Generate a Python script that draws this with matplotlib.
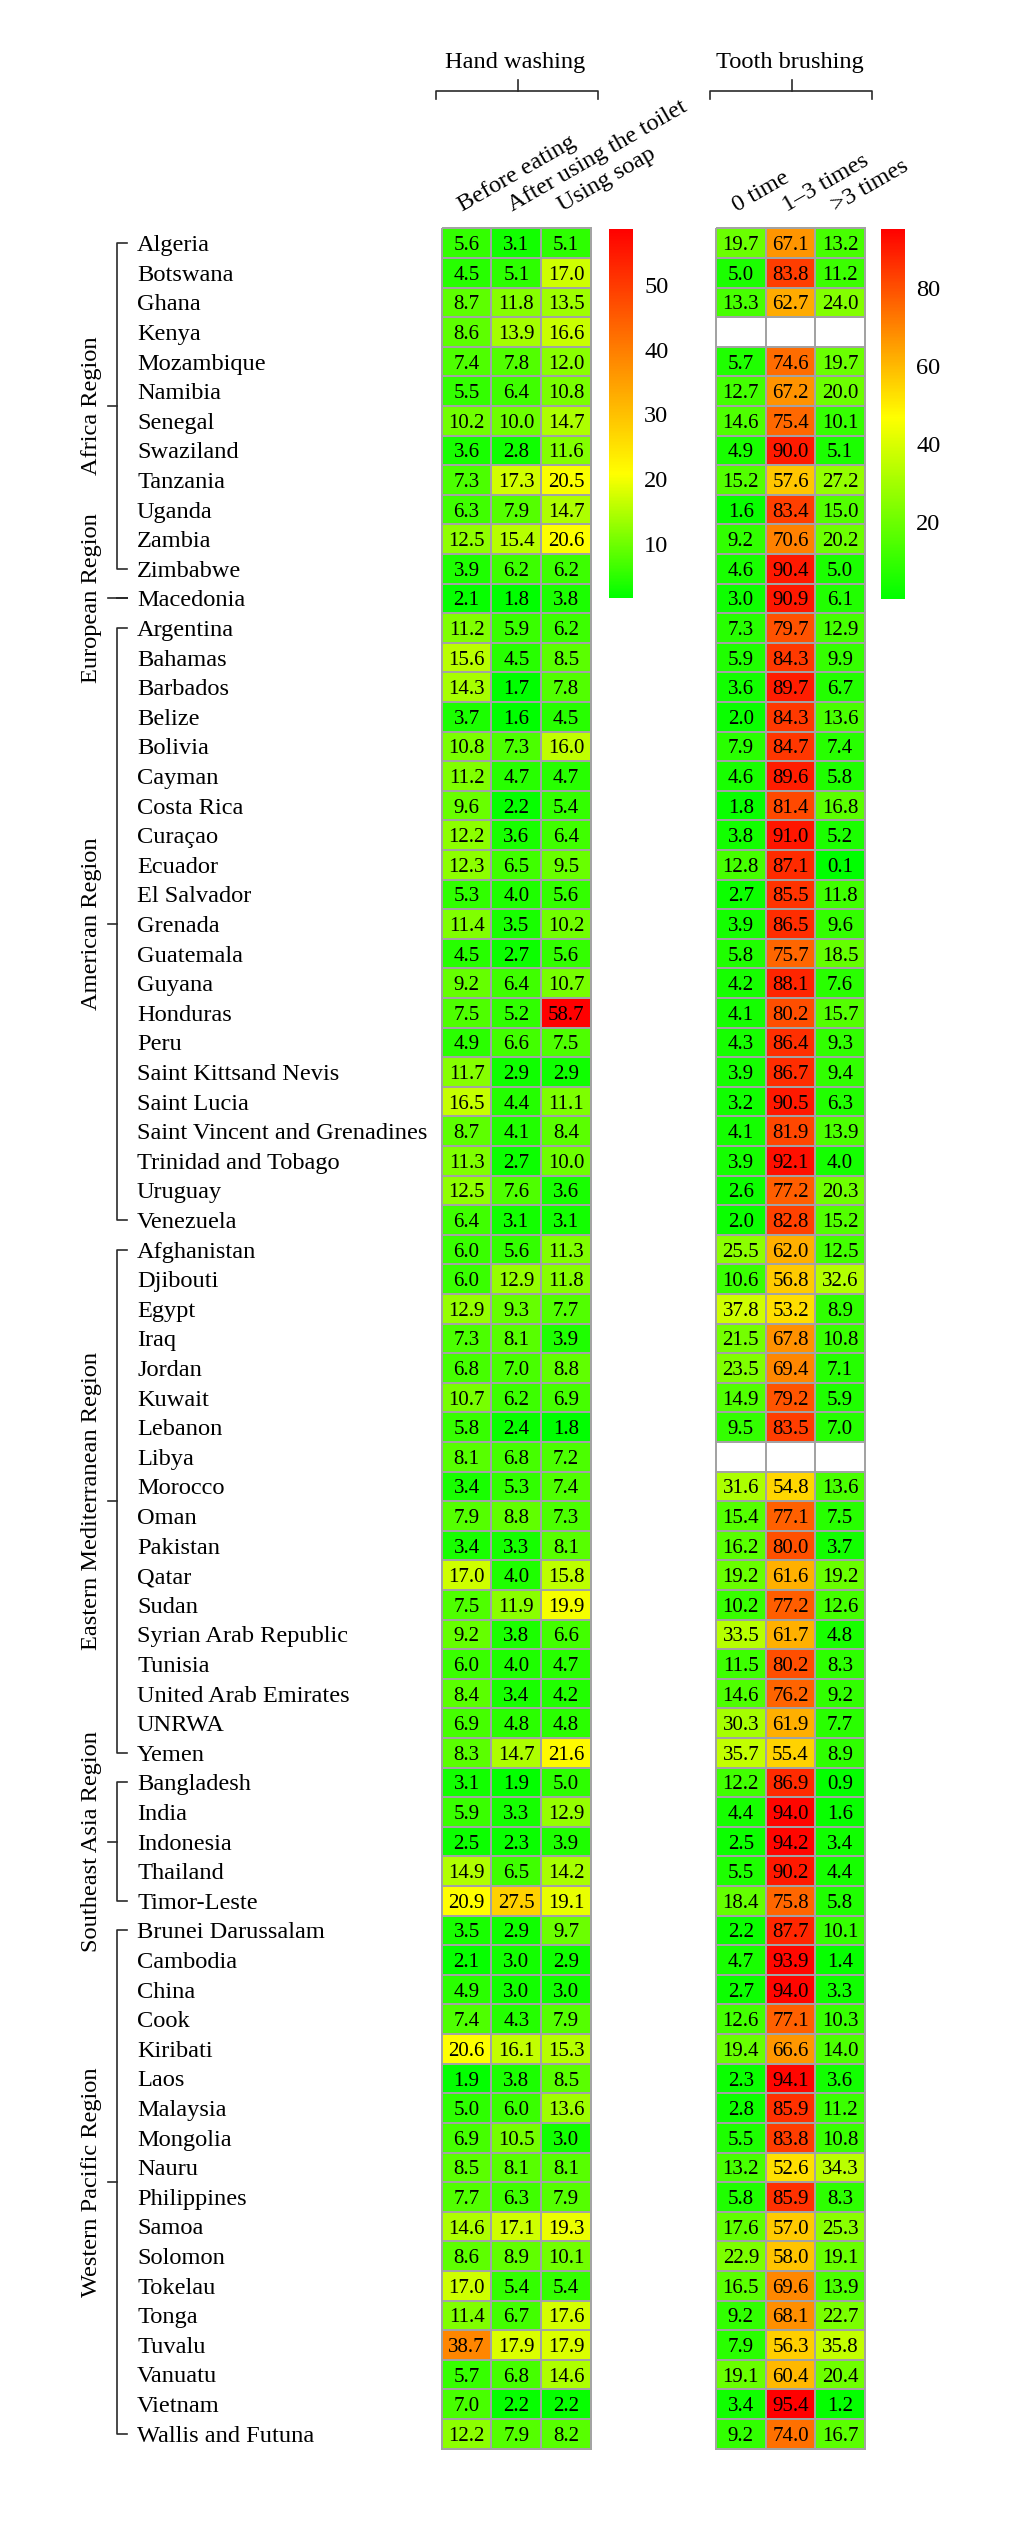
import numpy as np
import matplotlib
matplotlib.use('Agg')
import matplotlib.pyplot as plt
from matplotlib.colors import LinearSegmentedColormap
from matplotlib import transforms

# ---------------- data ----------------
countries = [
    "Algeria", "Botswana", "Ghana", "Kenya", "Mozambique", "Namibia", "Senegal",
    "Swaziland", "Tanzania", "Uganda", "Zambia", "Zimbabwe",
    "Macedonia",
    "Argentina", "Bahamas", "Barbados", "Belize", "Bolivia", "Cayman", "Costa Rica",
    "Curaçao", "Ecuador", "El Salvador", "Grenada", "Guatemala", "Guyana", "Honduras",
    "Peru", "Saint Kittsand Nevis", "Saint Lucia", "Saint Vincent and Grenadines",
    "Trinidad and Tobago", "Uruguay", "Venezuela",
    "Afghanistan", "Djibouti", "Egypt", "Iraq", "Jordan", "Kuwait", "Lebanon", "Libya",
    "Morocco", "Oman", "Pakistan", "Qatar", "Sudan", "Syrian Arab Republic", "Tunisia",
    "United Arab Emirates", "UNRWA", "Yemen",
    "Bangladesh", "India", "Indonesia", "Thailand", "Timor-Leste",
    "Brunei Darussalam", "Cambodia", "China", "Cook", "Kiribati", "Laos", "Malaysia",
    "Mongolia", "Nauru", "Philippines", "Samoa", "Solomon", "Tokelau", "Tonga",
    "Tuvalu", "Vanuatu", "Vietnam", "Wallis and Futuna",
]

region_names = ["Africa Region", "European Region", "American Region",
                "Eastern Mediterranean Region", "Southeast Asia Region",
                "Western Pacific Region"]
region_sizes = [12, 1, 21, 18, 5, 18]

hand_cols = ["Before eating", "After using the toilet", "Using soap"]
tooth_cols = ["0 time", "1\u20133 times", ">3 times"]

hand_before = [5.6, 4.5, 8.7, 8.6, 7.4, 5.5, 10.2, 3.6, 7.3, 6.3, 12.5, 3.9,
               2.1,
               11.2, 15.6, 14.3, 3.7, 10.8, 11.2, 9.6, 12.2, 12.3, 5.3, 11.4, 4.5, 9.2, 7.5,
               4.9, 11.7, 16.5, 8.7, 11.3, 12.5, 6.4,
               6.0, 6.0, 12.9, 7.3, 6.8, 10.7, 5.8, 8.1, 3.4, 7.9, 3.4, 17.0, 7.5, 9.2, 6.0,
               8.4, 6.9, 8.3,
               3.1, 5.9, 2.5, 14.9, 20.9,
               3.5, 2.1, 4.9, 7.4, 20.6, 1.9, 5.0, 6.9, 8.5, 7.7, 14.6, 8.6, 17.0, 11.4,
               38.7, 5.7, 7.0, 12.2]
hand_after = [3.1, 5.1, 11.8, 13.9, 7.8, 6.4, 10.0, 2.8, 17.3, 7.9, 15.4, 6.2,
              1.8,
              5.9, 4.5, 1.7, 1.6, 7.3, 4.7, 2.2, 3.6, 6.5, 4.0, 3.5, 2.7, 6.4, 5.2,
              6.6, 2.9, 4.4, 4.1, 2.7, 7.6, 3.1,
              5.6, 12.9, 9.3, 8.1, 7.0, 6.2, 2.4, 6.8, 5.3, 8.8, 3.3, 4.0, 11.9, 3.8, 4.0,
              3.4, 4.8, 14.7,
              1.9, 3.3, 2.3, 6.5, 27.5,
              2.9, 3.0, 3.0, 4.3, 16.1, 3.8, 6.0, 10.5, 8.1, 6.3, 17.1, 8.9, 5.4, 6.7,
              17.9, 6.8, 2.2, 7.9]
hand_soap = [5.1, 17.0, 13.5, 16.6, 12.0, 10.8, 14.7, 11.6, 20.5, 14.7, 20.6, 6.2,
             3.8,
             6.2, 8.5, 7.8, 4.5, 16.0, 4.7, 5.4, 6.4, 9.5, 5.6, 10.2, 5.6, 10.7, 58.7,
             7.5, 2.9, 11.1, 8.4, 10.0, 3.6, 3.1,
             11.3, 11.8, 7.7, 3.9, 8.8, 6.9, 1.8, 7.2, 7.4, 7.3, 8.1, 15.8, 19.9, 6.6, 4.7,
             4.2, 4.8, 21.6,
             5.0, 12.9, 3.9, 14.2, 19.1,
             9.7, 2.9, 3.0, 7.9, 15.3, 8.5, 13.6, 3.0, 8.1, 7.9, 19.3, 10.1, 5.4, 17.6,
             17.9, 14.6, 2.2, 8.2]

nan = np.nan
tooth_none = [19.7, 5.0, 13.3, nan, 5.7, 12.7, 14.6, 4.9, 15.2, 1.6, 9.2, 4.6,
              3.0,
              7.3, 5.9, 3.6, 2.0, 7.9, 4.6, 1.8, 3.8, 12.8, 2.7, 3.9, 5.8, 4.2, 4.1,
              4.3, 3.9, 3.2, 4.1, 3.9, 2.6, 2.0,
              25.5, 10.6, 37.8, 21.5, 23.5, 14.9, 9.5, nan, 31.6, 15.4, 16.2, 19.2, 10.2,
              33.5, 11.5, 14.6, 30.3, 35.7,
              12.2, 4.4, 2.5, 5.5, 18.4,
              2.2, 4.7, 2.7, 12.6, 19.4, 2.3, 2.8, 5.5, 13.2, 5.8, 17.6, 22.9, 16.5, 9.2,
              7.9, 19.1, 3.4, 9.2]
tooth_1to3 = [67.1, 83.8, 62.7, nan, 74.6, 67.2, 75.4, 90.0, 57.6, 83.4, 70.6, 90.4,
              90.9,
              79.7, 84.3, 89.7, 84.3, 84.7, 89.6, 81.4, 91.0, 87.1, 85.5, 86.5, 75.7, 88.1,
              80.2, 86.4, 86.7, 90.5, 81.9, 92.1, 77.2, 82.8,
              62.0, 56.8, 53.2, 67.8, 69.4, 79.2, 83.5, nan, 54.8, 77.1, 80.0, 61.6, 77.2,
              61.7, 80.2, 76.2, 61.9, 55.4,
              86.9, 94.0, 94.2, 90.2, 75.8,
              87.7, 93.9, 94.0, 77.1, 66.6, 94.1, 85.9, 83.8, 52.6, 85.9, 57.0, 58.0, 69.6,
              68.1, 56.3, 60.4, 95.4, 74.0]
tooth_over3 = [13.2, 11.2, 24.0, nan, 19.7, 20.0, 10.1, 5.1, 27.2, 15.0, 20.2, 5.0,
               6.1,
               12.9, 9.9, 6.7, 13.6, 7.4, 5.8, 16.8, 5.2, 0.1, 11.8, 9.6, 18.5, 7.6, 15.7,
               9.3, 9.4, 6.3, 13.9, 4.0, 20.3, 15.2,
               12.5, 32.6, 8.9, 10.8, 7.1, 5.9, 7.0, nan, 13.6, 7.5, 3.7, 19.2, 12.6, 4.8,
               8.3, 9.2, 7.7, 8.9,
               0.9, 1.6, 3.4, 4.4, 5.8,
               10.1, 1.4, 3.3, 10.3, 14.0, 3.6, 11.2, 10.8, 34.3, 8.3, 25.3, 19.1, 13.9,
               22.7, 35.8, 20.4, 1.2, 16.7]

hand_ticks = [10, 20, 30, 40, 50]
tooth_ticks = [20, 40, 60, 80]

# ---------------- style ----------------
plt.rcParams['font.family'] = ['Liberation Serif', 'DejaVu Serif']
LABEL_FS = 17.6
CELL_FS = 15
EDGE = '#a3a3a3'
LINE = '#2b2b2b'

cmap_hand = LinearSegmentedColormap.from_list(
    'hand', [(0.0, '#00ff00'), (0.335, '#ffff00'), (1.0, '#ff0000')])
cmap_tooth = LinearSegmentedColormap.from_list(
    'tooth', [(0.0, '#00ff00'), (0.49, '#ffff00'), (1.0, '#ff0000')])
for cm in (cmap_hand, cmap_tooth):
    cm.set_bad('white')

W, H = 1024, 2544
fig = plt.figure(figsize=(W / 100, H / 100), dpi=100)


def fx(px):
    return px / W


def fy(py):
    return 1 - py / H


n = len(countries)
TOP, ROWH = 228.5, 29.6
BOT = TOP + n * ROWH


def add_axes_px(x0, x1, y0, y1):
    return fig.add_axes([fx(x0), fy(y1), (x1 - x0) / W, (y1 - y0) / H])


ax_h = add_axes_px(441.7, 591, TOP, BOT)
ax_t = add_axes_px(716, 865, TOP, BOT)

hand = np.column_stack([hand_before, hand_after, hand_soap])
tooth = np.column_stack([tooth_none, tooth_1to3, tooth_over3])


def draw_heat(ax, data, cmap):
    m = np.ma.masked_invalid(data)
    mesh = ax.pcolormesh(np.arange(data.shape[1] + 1) - 0.5, np.arange(n + 1) - 0.5, m,
                         cmap=cmap, vmin=np.nanmin(data), vmax=np.nanmax(data),
                         edgecolors=EDGE, linewidth=1.3)
    mesh.set_clip_on(False)
    ax.set_xlim(-0.5, data.shape[1] - 0.5)
    ax.set_ylim(n - 0.5, -0.5)
    ax.axis('off')
    for i in range(n):
        for j in range(data.shape[1]):
            v = data[i, j]
            if np.isfinite(v):
                ax.text(j, i, f'{v:.1f}', ha='center', va='center_baseline',
                        fontsize=CELL_FS, color='black')
    return mesh


mesh_h = draw_heat(ax_h, hand, cmap_hand)
mesh_t = draw_heat(ax_t, tooth, cmap_tooth)

# colorbars
cax_h = add_axes_px(609, 633, TOP, 598)
cax_t = add_axes_px(881, 905, TOP, 599)
for cax, mesh, ticks in ((cax_h, mesh_h, hand_ticks), (cax_t, mesh_t, tooth_ticks)):
    cb = fig.colorbar(mesh, cax=cax, ticks=ticks)
    cb.outline.set_visible(False)
    cax.tick_params(length=0, labelsize=LABEL_FS, pad=8)

# column labels
for ax, cols in ((ax_h, hand_cols), (ax_t, tooth_cols)):
    for j, lab in enumerate(cols):
        ax.text(j - 0.08, -1.07, lab, rotation=30, rotation_mode='anchor',
                ha='left', va='baseline', fontsize=LABEL_FS)

# group headers with brackets
for ax, title in ((ax_h, "Hand washing"), (ax_t, "Tooth brushing")):
    bt = transforms.blended_transform_factory(ax.transData, fig.transFigure)
    ax.text(0.98, fy(68), title, transform=bt, ha='center', va='baseline',
            fontsize=LABEL_FS)
    ax.plot([-0.62, -0.62, 2.64, 2.64], [fy(99), fy(91), fy(91), fy(99)],
            transform=bt, color=LINE, lw=1.2, clip_on=False)
    ax.plot([1.03, 1.03], [fy(91), fy(80)], transform=bt, color=LINE, lw=1.2,
            clip_on=False)

# country labels
blend = transforms.blended_transform_factory(fig.transFigure, ax_h.transData)
for i, c in enumerate(countries):
    ax_h.text(fx(137), i, c, transform=blend, ha='left', va='center_baseline',
              fontsize=LABEL_FS)

# region brackets and labels
start = 0
for name, size in zip(region_names, region_sizes):
    y0, y1 = start, start + size - 1
    ym = (y0 + y1) / 2
    ax_h.plot([fx(127), fx(117), fx(117), fx(127)], [y0, y0, y1, y1],
              transform=blend, color=LINE, lw=1.2, clip_on=False)
    ax_h.plot([fx(117), fx(108)], [ym, ym], transform=blend, color=LINE, lw=1.2,
              clip_on=False)
    ax_h.text(fx(92), ym, name, transform=blend, rotation=90, ha='center',
              va='center', fontsize=LABEL_FS)
    start += size

fig.savefig('out.png', dpi=100)
